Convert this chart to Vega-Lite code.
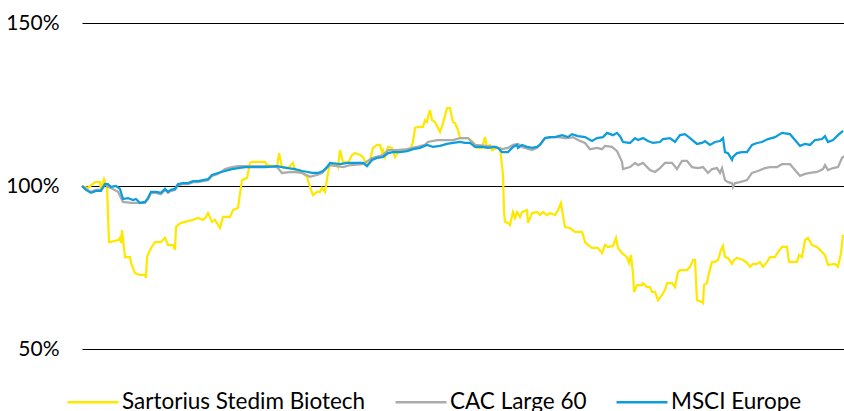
{
  "$schema": "https://vega.github.io/schema/vega-lite/v6.json",
  "autosize": "none",
  "width": 762,
  "height": 326,
  "padding": {"left": 82, "top": 23, "right": 0, "bottom": 62},
  "background": "white",
  "config": {"view": {"stroke": null}, "font": "Lato"},
  "datasets": {
    "y": [[0,100],[6,99.4],[13,101.2],[18,101.2],[19,98.8],[22,102.1],[25,100],[27,82.8],[28,82.8],[36,83.4],[38,84.1],[39,82.5],[40,86.5],[43,78.2],[48,78.2],[49,76.4],[53,73.3],[58,72.7],[63,72.7],[64,71.8],[65,78.2],[69,81.0],[73,82.8],[79,82.8],[83,84.1],[86,81.9],[91,81.9],[93,80.4],[94,87.4],[96,88.0],[99,88.7],[103,89.0],[111,89.6],[116,90.2],[121,89.6],[124,90.5],[126,91.7],[130,89.0],[133,89.6],[138,87.1],[141,90.5],[148,90.5],[151,92.6],[156,93.3],[160,101.8],[165,102.5],[168,107.1],[170,107.4],[183,107.4],[185,106.4],[191,106.1],[195,105.8],[197,110.1],[200,105.8],[206,105.5],[211,107.1],[213,104.9],[220,104.0],[225,102.8],[228,99.7],[231,97.2],[235,98.2],[238,98.2],[240,99.4],[243,98.2],[246,104.0],[248,106.8],[251,106.4],[255,106.4],[256,105.8],[258,111.0],[261,107.4],[266,107.1],[270,109.5],[273,110.1],[278,109.5],[281,108.9],[285,106.4],[288,108.0],[291,111.7],[295,112.6],[298,112.6],[300,110.4],[301,111.0],[303,108.9],[306,112.0],[310,111.7],[313,108.9],[316,110.4],[320,111.0],[328,111.0],[331,113.5],[333,117.8],[336,118.1],[341,118.1],[343,120.2],[345,119.6],[346,121.2],[348,123.3],[350,120.2],[353,119.6],[356,117.8],[358,116.6],[361,119.3],[365,123.9],[368,123.9],[371,119.6],[373,119.3],[376,117.2],[378,114.7],[386,114.7],[391,113.5],[393,112.6],[395,111.7],[400,111.7],[403,115.0],[405,112.0],[408,112.6],[410,111.0],[415,111.7],[418,111.7],[421,103.4],[422,92.0],[423,89.0],[426,88.7],[428,88.0],[431,92.0],[433,90.2],[435,92.0],[438,90.5],[440,92.0],[445,92.6],[446,88.7],[450,91.7],[455,92.0],[458,91.1],[461,92.0],[465,91.1],[468,91.7],[473,91.1],[476,92.6],[479,94.8],[480,92.6],[483,87.4],[488,87.1],[493,85.9],[500,85.9],[501,85.0],[503,82.8],[506,81.9],[510,81.0],[516,81.0],[520,79.4],[523,81.9],[526,81.3],[531,81.6],[534,84.1],[536,81.0],[540,79.4],[545,78.2],[547,76.4],[549,78.8],[551,73.3],[552,67.5],[555,69.6],[560,69.6],[561,70.2],[565,69.0],[568,69.0],[570,67.5],[573,67.5],[576,65.0],[580,66.6],[583,68.1],[585,70.2],[590,70.2],[593,69.0],[596,73.6],[598,74.2],[605,74.2],[608,75.2],[611,77.3],[613,77.3],[615,65.0],[620,64.4],[621,64.1],[622,69.6],[625,70.2],[626,72.1],[630,76.7],[633,76.7],[636,77.3],[639,80.4],[641,81.6],[643,78.2],[646,77.9],[650,76.1],[652,77.3],[655,77.9],[661,77.3],[665,76.4],[668,75.2],[671,76.1],[675,76.1],[678,76.7],[681,75.2],[685,76.7],[688,78.2],[693,78.2],[696,79.8],[700,81.3],[705,81.3],[707,76.7],[715,76.7],[717,78.8],[720,78.2],[723,83.4],[726,84.1],[730,81.9],[735,81.3],[738,80.4],[743,78.8],[746,75.8],[753,76.1],[756,75.2],[759,79.4],[761,85.0]],
    "b": [[0,100],[4,98.8],[9,97.9],[14,98.5],[19,98.5],[23,100.6],[26,100.6],[29,99.7],[34,100],[38,99.1],[41,96.0],[46,96.3],[51,95.7],[54,96.0],[58,94.8],[63,95.1],[66,96.3],[69,98.2],[74,98.2],[79,97.9],[83,99.1],[86,98.2],[89,98.8],[93,99.1],[96,100.6],[101,100.9],[106,100.9],[111,101.5],[116,101.5],[121,101.8],[126,102.1],[130,103.4],[136,104.0],[143,104.6],[150,105.2],[156,105.5],[163,105.8],[173,105.8],[183,105.8],[195,106.1],[200,105.8],[206,105.5],[213,105.2],[220,104.6],[226,104.3],[230,104.0],[236,104.0],[241,104.6],[245,105.8],[248,107.1],[258,106.7],[265,107.1],[271,107.1],[281,107.1],[285,106.1],[290,108.0],[295,108.6],[301,108.9],[306,110.1],[311,110.4],[318,110.4],[325,110.7],[331,111.3],[338,111.7],[345,112.6],[351,112.0],[358,112.3],[365,112.9],[371,113.2],[378,113.5],[383,113.2],[388,113.2],[393,112.0],[400,112.0],[406,111.7],[413,112.0],[416,111.7],[420,110.4],[426,110.4],[431,112.0],[435,112.6],[436,111.7],[440,112.6],[445,112.0],[450,111.7],[455,112.0],[458,112.6],[463,114.7],[468,115.0],[473,115.0],[480,115.6],[486,115.0],[490,115.9],[496,115.3],[503,115.0],[510,113.8],[515,114.7],[521,115.0],[525,116.3],[531,115.6],[535,116.3],[538,115.3],[541,113.5],[548,113.2],[553,114.7],[556,114.1],[561,114.7],[566,113.8],[571,113.2],[578,113.5],[581,114.4],[588,114.7],[593,113.5],[598,115.6],[603,115.9],[608,114.7],[615,112.9],[620,113.2],[623,113.8],[628,112.6],[633,113.5],[638,113.8],[641,114.7],[643,110.4],[646,110.1],[650,108.0],[651,108.9],[655,110.1],[660,110.4],[665,110.4],[670,112.6],[675,113.2],[680,113.5],[686,114.4],[693,115.0],[700,116.3],[708,115.9],[713,114.1],[718,112.3],[723,112.9],[728,112.6],[733,114.1],[740,114.4],[743,115.3],[746,113.5],[751,114.1],[756,115.6],[761,116.9]],
    "g": [[0,100],[4,99.1],[9,98.2],[14,98.8],[19,98.8],[23,100.6],[26,99.7],[29,99.4],[36,98.2],[41,95.1],[49,94.8],[58,94.8],[63,94.8],[66,96.0],[69,97.9],[74,97.9],[79,97.5],[83,98.8],[86,97.9],[89,98.5],[93,98.8],[96,100.3],[101,100.6],[106,100.6],[111,101.2],[116,101.2],[121,101.5],[126,101.8],[130,103.1],[136,103.7],[143,105.2],[150,105.8],[156,106.1],[173,106.1],[183,106.1],[195,105.8],[200,104.0],[210,104.3],[220,104.0],[228,102.8],[235,103.4],[240,104.0],[245,105.5],[248,106.4],[261,105.8],[268,106.4],[281,106.7],[290,108.6],[301,109.5],[306,111.0],[315,111.0],[325,111.3],[335,112.0],[343,112.6],[346,113.5],[355,114.1],[365,114.1],[371,114.1],[378,114.7],[386,114.7],[393,112.6],[413,112.0],[420,111.3],[426,111.7],[431,112.6],[436,112.9],[440,112.0],[450,111.0],[455,111.7],[463,114.7],[470,115.0],[476,115.0],[483,114.7],[486,114.7],[491,115.0],[496,114.1],[503,113.2],[508,111.3],[515,111.7],[520,111.3],[523,112.3],[530,112.0],[535,110.7],[540,107.4],[541,105.2],[548,105.8],[553,107.1],[556,106.4],[561,107.1],[568,104.9],[573,104.3],[578,105.5],[583,107.1],[590,107.1],[595,105.2],[600,107.7],[605,107.7],[610,105.8],[616,105.5],[621,105.8],[626,104.0],[630,105.2],[635,105.5],[638,104.0],[640,105.5],[643,101.8],[646,101.2],[650,100.9],[651,99.7],[653,100.9],[658,101.2],[665,101.8],[670,104.0],[676,104.6],[683,105.5],[688,105.8],[695,105.8],[700,106.7],[708,106.7],[713,104.9],[718,103.1],[723,103.7],[728,104.0],[735,104.3],[741,105.2],[743,106.4],[746,104.9],[751,105.5],[756,105.8],[760,108.6],[762,109.2]]
  },
  "layer": [
    {
      "data": {"name": "y"},
      "transform": [
        {"calculate": "'Sartorius Stedim Biotech'", "as": "series"},
        {"calculate": "datum[0]", "as": "t"},
        {"calculate": "datum[1]", "as": "v"}
      ],
      "mark": {"type": "line", "strokeWidth": 2.25, "interpolate": "linear"},
      "encoding": {
        "x": {"field": "t", "type": "quantitative", "axis": null, "scale": {"domain": [0, 762], "nice": false, "zero": false}},
        "y": {"field": "v", "type": "quantitative", "scale": {"domain": [50, 150], "nice": false, "zero": false},
          "axis": {"values": [50, 100, 150], "labelExpr": "datum.value + '%'", "title": null, "domain": false, "ticks": false,
            "grid": true, "gridColor": "#000000", "gridWidth": 1, "labelFontSize": 21, "labelColor": "#000000", "labelPadding": 23, "labelFont": "Lato"}},
        "color": {"field": "series", "type": "nominal",
          "scale": {"domain": ["Sartorius Stedim Biotech", "CAC Large 60", "MSCI Europe"], "range": ["#FFE800", "#ABABAB", "#0D9DDB"]},
          "legend": {"orient": "none", "legendX": -16, "legendY": 352, "direction": "horizontal", "title": null,
            "symbolType": "stroke", "symbolSize": 2601, "symbolStrokeWidth": 2.5, "labelFontSize": 22.5, "labelColor": "#000000",
            "labelFont": "Lato", "labelOffset": 2, "columnPadding": 24, "labelLimit": 400}}
      }
    },
    {
      "data": {"name": "g"},
      "transform": [
        {"calculate": "'CAC Large 60'", "as": "series"},
        {"calculate": "datum[0]", "as": "t"},
        {"calculate": "datum[1]", "as": "v"}
      ],
      "mark": {"type": "line", "strokeWidth": 2.25},
      "encoding": {
        "x": {"field": "t", "type": "quantitative"},
        "y": {"field": "v", "type": "quantitative"},
        "color": {"field": "series", "type": "nominal"}
      }
    },
    {
      "data": {"name": "b"},
      "transform": [
        {"calculate": "'MSCI Europe'", "as": "series"},
        {"calculate": "datum[0]", "as": "t"},
        {"calculate": "datum[1]", "as": "v"}
      ],
      "mark": {"type": "line", "strokeWidth": 2.25},
      "encoding": {
        "x": {"field": "t", "type": "quantitative"},
        "y": {"field": "v", "type": "quantitative"},
        "color": {"field": "series", "type": "nominal"}
      }
    }
  ]
}
